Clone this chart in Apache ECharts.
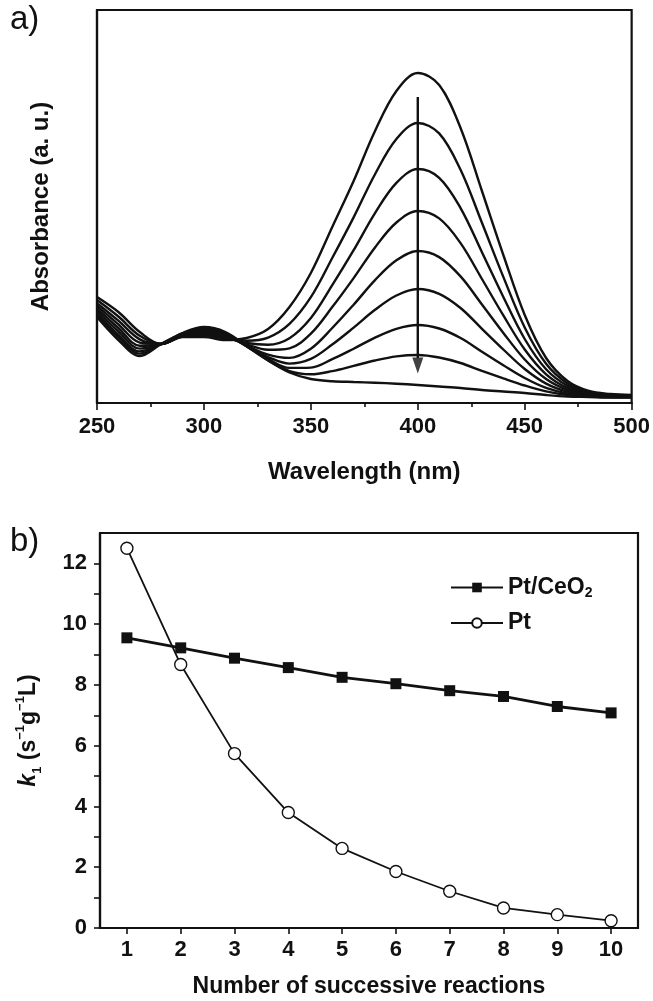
<!DOCTYPE html>
<html><head><meta charset="utf-8">
<script src="https://cdn.jsdelivr.net/npm/echarts@6/dist/echarts.min.js"></script>
<style>html,body{margin:0;padding:0;background:#fff}#c{width:653px;height:1001px}</style>
</head><body><div id="c"></div>
<script>
// ---------- Panel a: UV-vis spectra ----------
const wavelengths = [250,260,270,280,290,300,310,320,330,340,350,360,370,380,390,400,410,420,430,440,450,460,470,480,490,500];
const spectrum1 = [1.06,0.91,0.71,0.59,0.66,0.66,0.63,0.65,0.74,0.96,1.30,1.76,2.22,2.72,3.12,3.30,3.18,2.75,2.12,1.48,0.88,0.45,0.22,0.12,0.09,0.08];
const spectrum2 = [1.03,0.865,0.672,0.59,0.665,0.677,0.642,0.623,0.654,0.791,1.058,1.45,1.856,2.288,2.64,2.80,2.696,2.332,1.802,1.261,0.755,0.392,0.196,0.111,0.084,0.076];
const spectrum3 = [0.998,0.823,0.636,0.59,0.672,0.692,0.654,0.60,0.582,0.647,0.849,1.178,1.528,1.899,2.201,2.34,2.252,1.949,1.508,1.06,0.64,0.337,0.172,0.102,0.079,0.072];
const spectrum4 = [0.972,0.787,0.604,0.59,0.677,0.705,0.665,0.586,0.532,0.547,0.693,0.959,1.249,1.556,1.805,1.92,1.846,1.599,1.24,0.876,0.535,0.287,0.151,0.094,0.074,0.069];
const spectrum5 = [0.946,0.75,0.573,0.59,0.682,0.718,0.675,0.574,0.484,0.451,0.543,0.75,0.983,1.229,1.427,1.52,1.459,1.266,0.985,0.701,0.435,0.239,0.131,0.086,0.07,0.066];
const spectrum6 = [0.922,0.717,0.544,0.59,0.687,0.729,0.685,0.569,0.459,0.394,0.441,0.585,0.754,0.932,1.075,1.14,1.092,0.95,0.742,0.535,0.34,0.194,0.113,0.079,0.066,0.063];
const spectrum7 = [0.898,0.683,0.516,0.59,0.692,0.741,0.694,0.568,0.441,0.351,0.354,0.438,0.543,0.654,0.742,0.78,0.745,0.65,0.513,0.378,0.25,0.151,0.095,0.072,0.062,0.06];
const spectrum8 = [0.88,0.658,0.494,0.59,0.696,0.75,0.702,0.566,0.428,0.319,0.287,0.319,0.371,0.425,0.466,0.48,0.455,0.40,0.321,0.246,0.175,0.116,0.08,0.066,0.058,0.058];
const spectrum9 = [0.86,0.63,0.47,0.59,0.70,0.76,0.71,0.57,0.425,0.305,0.24,0.218,0.21,0.203,0.193,0.18,0.165,0.15,0.13,0.115,0.10,0.08,0.065,0.06,0.055,0.055];
const spectra = [spectrum1,spectrum2,spectrum3,spectrum4,spectrum5,spectrum6,spectrum7,spectrum8,spectrum9];
const arrowWavelength = 400;
const arrowStart = 3.06;
const arrowShaftEnd = 0.45;
const arrowHeadAt = 0.375;

// ---------- Panel b: rate constants ----------
const reactionNumbers = ['1','2','3','4','5','6','7','8','9','10'];
const kPtCeO2 = [9.55,9.22,8.88,8.57,8.25,8.04,7.81,7.62,7.29,7.08];
const kPt = [12.5,8.67,5.74,3.80,2.62,1.86,1.21,0.66,0.44,0.24];

const INK = '#111111';
const FONT = '"Liberation Sans", Arial, Helvetica, sans-serif';

const chart = echarts.init(document.getElementById('c'), null, {renderer: 'canvas'});

const spectrumSeries = spectra.map((arr, i) => ({
  type: 'line', name: 'spec' + (i + 1), xAxisIndex: 0, yAxisIndex: 0,
  data: wavelengths.map((w, j) => [w, arr[j]]),
  showSymbol: false, smooth: 0.35, silent: true,
  lineStyle: {color: INK, width: 2.4}
}));

const option = {
  animation: false,
  backgroundColor: '#ffffff',
  textStyle: {fontFamily: FONT, color: INK},
  grid: [
    {left: 97, right: 21, top: 10, height: 393, show: true, borderColor: INK, borderWidth: 2.2, backgroundColor: 'transparent'},
    {left: 100, right: 15, top: 533, height: 395, show: true, borderColor: INK, borderWidth: 2.2, backgroundColor: 'transparent'}
  ],
  xAxis: [
    {
      type: 'value', gridIndex: 0, min: 250, max: 500, interval: 50,
      name: 'Wavelength (nm)', nameLocation: 'middle', nameGap: 57,
      nameTextStyle: {fontSize: 24, fontWeight: 'bold', color: INK, fontFamily: FONT},
      axisLine: {show: true, lineStyle: {color: INK, width: 2.2}},
      axisTick: {show: true, inside: false, length: 7, lineStyle: {color: INK, width: 1.6}},
      minorTick: {show: true, splitNumber: 2, length: 4, lineStyle: {color: INK, width: 1.6}},
      axisLabel: {fontSize: 22, fontWeight: 'bold', color: INK, margin: 13, fontFamily: FONT},
      splitLine: {show: false}
    },
    {
      type: 'category', gridIndex: 1, data: reactionNumbers, boundaryGap: true,
      name: 'Number of successive reactions', nameLocation: 'middle', nameGap: 47,
      nameTextStyle: {fontSize: 23, fontWeight: 'bold', color: INK, fontFamily: FONT},
      axisLine: {show: true, lineStyle: {color: INK, width: 2.2}},
      axisTick: {show: true, alignWithLabel: true, inside: false, length: 6, lineStyle: {color: INK, width: 1.6}},
      axisLabel: {fontSize: 22, fontWeight: 'bold', color: INK, margin: 11, fontFamily: FONT},
      splitLine: {show: false}
    }
  ],
  yAxis: [
    {
      type: 'value', gridIndex: 0, min: 0, max: 3.93,
      name: 'Absorbance (a. u.)', nameLocation: 'middle', nameGap: 44, nameRotate: 90,
      nameTextStyle: {fontSize: 24, fontWeight: 'bold', color: INK, fontFamily: FONT},
      axisLine: {show: true, lineStyle: {color: INK, width: 2.2}},
      axisTick: {show: false}, axisLabel: {show: false}, splitLine: {show: false}
    },
    {
      type: 'value', gridIndex: 1, min: 0, max: 13, interval: 1,
      name: '{k|k}{sub|1}{t| (s}{sup|−1}{t|g}{sup|−1}{t|L)}',
      nameLocation: 'middle', nameGap: 56, nameRotate: 90,
      nameTextStyle: {
        color: INK, fontFamily: FONT,
        rich: {
          k: {fontSize: 23, fontWeight: 'bold', fontStyle: 'italic', lineHeight: 30, color: INK, fontFamily: FONT},
          t: {fontSize: 23, fontWeight: 'bold', lineHeight: 30, color: INK, fontFamily: FONT},
          sub: {fontSize: 13, fontWeight: 'bold', lineHeight: 13, verticalAlign: 'bottom', color: INK, fontFamily: FONT},
          sup: {fontSize: 13, fontWeight: 'bold', lineHeight: 13, verticalAlign: 'top', color: INK, fontFamily: FONT}
        }
      },
      axisLine: {show: true, lineStyle: {color: INK, width: 2.2}},
      axisTick: {show: true, inside: false, length: 6, lineStyle: {color: INK, width: 1.6}},
      axisLabel: {
        fontSize: 22, fontWeight: 'bold', color: INK, margin: 13, fontFamily: FONT,
        showMaxLabel: false,
        formatter: v => (v % 2 === 0 && v <= 12) ? String(v) : ''
      },
      splitLine: {show: false}
    }
  ],
  legend: {
    show: true, orient: 'vertical', left: 445, top: 571,
    data: ['Pt/CeO2', 'Pt'],
    itemWidth: 52, itemHeight: 12, itemGap: 11,
    selectedMode: false,
    formatter: n => n === 'Pt/CeO2' ? '{n|Pt/CeO}{s|2}' : '{n|' + n + '}',
    textStyle: {
      color: INK, fontFamily: FONT,
      rich: {
        n: {fontSize: 23, fontWeight: 'bold', lineHeight: 26, color: INK, fontFamily: FONT},
        s: {fontSize: 14, fontWeight: 'bold', lineHeight: 12, verticalAlign: 'bottom', color: INK, fontFamily: FONT}
      }
    }
  },
  graphic: [
    {type: 'text', left: 10, top: 3, style: {text: 'a)', font: '33px "Liberation Sans", Arial, sans-serif', fill: INK}},
    {type: 'text', left: 10, top: 525, style: {text: 'b)', font: '33px "Liberation Sans", Arial, sans-serif', fill: INK}}
  ],
  series: spectrumSeries.concat([
    {
      type: 'line', name: 'arrow', xAxisIndex: 0, yAxisIndex: 0, silent: true,
      data: [[arrowWavelength, arrowStart], [arrowWavelength, arrowShaftEnd]],
      showSymbol: false, lineStyle: {color: INK, width: 2.4}
    },
    {
      type: 'scatter', name: 'arrowhead', xAxisIndex: 0, yAxisIndex: 0, silent: true,
      data: [[arrowWavelength, arrowHeadAt]],
      symbol: 'triangle', symbolRotate: 180, symbolSize: [11, 16],
      itemStyle: {color: INK}
    },
    {
      type: 'line', name: 'Pt/CeO2', xAxisIndex: 1, yAxisIndex: 1,
      data: kPtCeO2, symbol: 'rect', symbolSize: 11, showSymbol: true,
      lineStyle: {color: INK, width: 2.8}, itemStyle: {color: INK, borderColor: INK, borderWidth: 0}
    },
    {
      type: 'line', name: 'Pt', xAxisIndex: 1, yAxisIndex: 1,
      data: kPt, symbol: 'circle', symbolSize: 12, showSymbol: true,
      lineStyle: {color: INK, width: 1.8}, itemStyle: {color: '#ffffff', borderColor: INK, borderWidth: 1.4},
      z: 3
    }
  ])
};
chart.setOption(option);
</script>
</body></html>
